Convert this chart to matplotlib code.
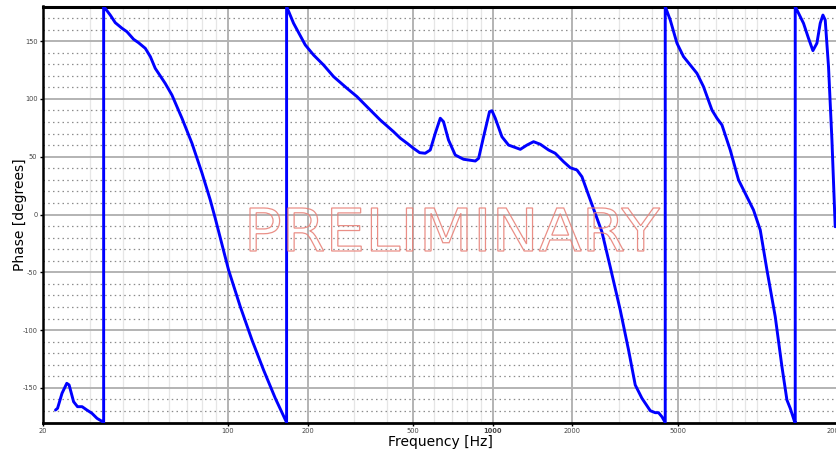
import matplotlib
matplotlib.use("Agg")
import matplotlib.pyplot as plt
from matplotlib.ticker import FixedLocator, NullFormatter
from matplotlib.textpath import TextPath
from matplotlib.patches import PathPatch
from matplotlib.font_manager import FontProperties
from matplotlib.transforms import Affine2D

# Phase response (wrapped)
freq_hz = [22.3, 22.7, 23.6, 24.6, 25.1, 26.1, 27.0, 28.1, 29.3, 30.6, 32.0, 33.4, 33.9,
           33.9, 34.2, 35.9, 37.5, 39.8, 41.5, 44.0, 45.9, 48.7, 50.9, 53.1, 57.9, 61.4,
           67.0, 73.1, 79.8, 85.7, 89.5, 100.5, 111.3, 123.2, 136.3, 150.9, 166.5,
           166.5, 176.9, 195.9, 210.6, 229.6, 250.6, 281.6, 307.2, 335, 376, 422, 448,
           476, 502, 530, 556, 581, 607, 634, 652, 681, 722, 776, 860, 885, 924, 973,
           994, 1023, 1084, 1148, 1272, 1348, 1427, 1513, 1627, 1723, 1853, 1964, 2082,
           2174, 2302, 2440, 2586, 2780, 3034, 3262, 3457, 3664, 3940, 4114, 4234, 4360,
           4488, 4488, 4688, 4970, 5262, 5578, 5912, 6262, 6738, 7038, 7350, 7900, 8492,
           9132, 9672, 10258, 10872, 11686, 12388, 12936, 13314, 13786, 13906,
           13906, 14944, 15608, 16218, 16792, 17284, 17694, 18052, 18576, 19136, 19690]
phase_deg = [-169.2, -167.7, -154.7, -146.1, -147.5, -162.0, -166.3, -166.3, -169.2, -172.0,
             -176.4, -179.0, -180.0,
             180.0, 179.0, 172.6, 166.0, 161.1, 158.2, 151.6, 148.7, 143.8, 136.6, 126.5,
             113.5, 103.4, 83.3, 61.6, 35.7, 12.6, -3.3, -48.0, -79.8, -108.6, -134.6,
             -159.0, -180.0,
             180.0, 165.5, 146.7, 138.0, 129.4, 119.3, 109.2, 102.0, 93.3, 81.8, 71.7, 66.0,
             61.5, 57.3, 53.5, 53.0, 55.8, 70.3, 83.3, 80.3, 64.5, 51.5, 47.8, 46.3, 48.6,
             67.3, 89.0, 89.8, 83.3, 67.3, 60.1, 56.4, 60.1, 63.0, 60.8, 55.8, 53.0, 45.7,
             40.5, 38.5, 32.7, 16.9, 1.0, -14.9, -45.2, -82.6, -117.3, -147.5, -159.0,
             -169.8, -171.5, -171.5, -175.0, -180.0,
             180.0, 168.3, 148.2, 136.6, 129.4, 122.2, 110.6, 90.4, 83.3, 77.5, 55.8, 29.9,
             15.4, 3.9, -13.4, -48.0, -88.4, -131.7, -160.5, -167.7, -178.4, -180.0,
             180.0, 165.5, 152.5, 141.8, 148.2, 165.5, 172.6, 168.3, 127.9, 64.5, -10.6]

x_major = [100, 200, 500, 1000, 2000, 5000]
x_labels_at = [20, 100, 200, 500, 1000, 2000, 5000, 20000]
x_labels = ["20", "100", "200", "500", "1000", "2000", "5000", "20000"]
y_major = [-150, -100, -50, 0, 50, 100, 150]
watermark = "PRELIMINARY"

W, H = 836, 453
fig = plt.figure(figsize=(W / 100, H / 100), dpi=100)
ax = fig.add_axes([43 / W, (H - 422.5) / H, (837 - 43) / W, (422.5 - 6.5) / H])

ax.set_xscale("log")
ax.set_xlim(20, 20000)
ax.set_ylim(-180, 180)

# minor x grid (light)
minor_x = []
for dec in [10, 100, 1000, 10000]:
    for m in range(1, 10):
        v = dec * m
        if 20 < v < 20000 and v not in x_major:
            minor_x.append(v)
for v in minor_x:
    ax.axvline(v, color="#e6e6e6", lw=0.9, zorder=0)
# minor y grid (dotted)
for v in range(-170, 180, 10):
    if v % 50 != 0:
        ax.axhline(v, color="#8c8c8c", lw=0.9, ls=(0, (1.2, 2.6)), zorder=0.5)
# major grids
for v in x_major:
    ax.axvline(v, color="#b3b3b3", lw=1.4, zorder=1)
for v in y_major:
    ax.axhline(v, color="#b3b3b3", lw=1.4, zorder=1)

ax.plot(freq_hz, phase_deg, color="#0000ff", lw=2.1, zorder=3,
        solid_joinstyle="round", solid_capstyle="round")

ax.xaxis.set_major_locator(FixedLocator(x_labels_at))
ax.xaxis.set_minor_locator(FixedLocator([]))
ax.set_xticklabels(x_labels)
ax.xaxis.set_minor_formatter(NullFormatter())
ax.set_yticks(y_major)
ax.set_yticklabels([str(v) for v in y_major])
ax.tick_params(axis="both", which="major", length=2, width=1, labelsize=4.8,
               labelcolor="#444444", pad=2)
for lbl in ax.get_xticklabels():
    if lbl.get_text() == "1000":
        lbl.set_fontweight("bold")

for s in ["top", "bottom", "left", "right"]:
    ax.spines[s].set_color("black")
ax.spines["top"].set_linewidth(2.2)
ax.spines["bottom"].set_linewidth(2.0)
ax.spines["left"].set_linewidth(1.8)

ax.set_xlabel("Frequency [Hz]", fontsize=10, labelpad=1)
ax.set_ylabel("Phase [degrees]", fontsize=10, labelpad=-3)

# outlined watermark
tp = TextPath((0, 0), watermark, size=1, prop=FontProperties(family="DejaVu Sans"))
bb = tp.get_extents()
x0, x1, ytop, ybot = 250, 660, 208, 251
tr = (Affine2D().translate(-bb.x0, -bb.y0)
      .scale((x1 - x0) / W / bb.width, (ybot - ytop) / H / bb.height)
      .translate(x0 / W, (H - ybot) / H)) + fig.transFigure
patch = PathPatch(tp, transform=tr, facecolor="none", edgecolor="#e8837a",
                  lw=0.9, alpha=0.9, zorder=5)
fig.add_artist(patch)

fig.savefig("out.png", dpi=100)
